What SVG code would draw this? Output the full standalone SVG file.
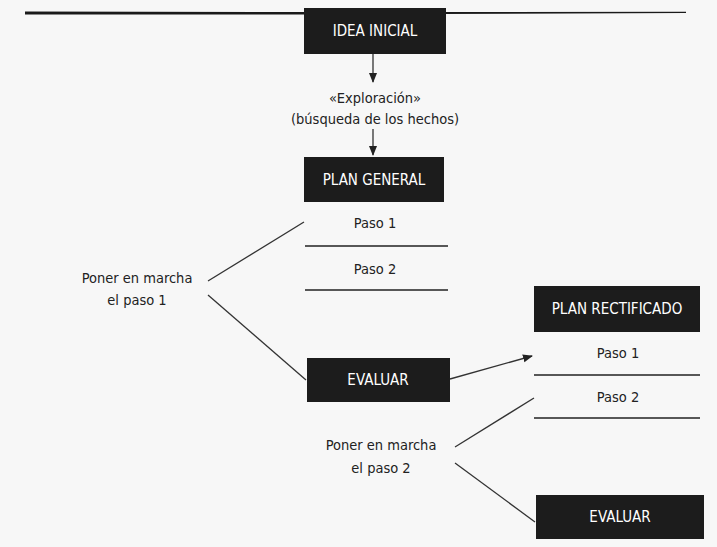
<svg xmlns="http://www.w3.org/2000/svg" width="717" height="547" viewBox="0 0 717 547">
<style>
.box{fill:#1c1c1c}
.bt{fill:#ffffff;font-family:"DejaVu Sans Condensed","DejaVu Sans",sans-serif;font-stretch:condensed;font-size:15px;text-anchor:middle}
.t{fill:#222;font-family:"DejaVu Sans Condensed","DejaVu Sans",sans-serif;font-stretch:condensed;font-size:14.5px;text-anchor:middle}
.sep{stroke:#222;stroke-width:1.6}
.c{stroke:#333;stroke-width:1.3;fill:none}
</style>
<defs>
<marker id="ah" markerWidth="10" markerHeight="10" refX="9" refY="5" orient="auto" markerUnits="userSpaceOnUse">
<path d="M0,1 L10,5 L0,9 Z" fill="#222"/>
</marker>
</defs>
<rect width="717" height="547" fill="#f7f7f7"/>
<path d="M25,11.5 L300,12 L686,11.8 L686,13 L300,14.5 L25,14.5 Z" fill="#1a1a1a"/>
<g id="idea"><rect class="box" x="304" y="8" width="142" height="46"/><text class="bt" x="375" y="36">IDEA INICIAL</text></g>
<g id="exploracion"><text class="t" x="375" y="103">«Exploración»</text><text class="t" x="375" y="124">(búsqueda de los hechos)</text></g>
<g id="plan-general"><rect class="box" x="304" y="157" width="140" height="45"/><text class="bt" x="374" y="185">PLAN GENERAL</text>
<text class="t" x="375" y="228">Paso 1</text><line class="sep" x1="305" y1="246" x2="448" y2="246"/>
<text class="t" x="375" y="274">Paso 2</text><line class="sep" x1="305" y1="290" x2="448" y2="290"/></g>
<g id="poner1"><text class="t" x="137" y="283">Poner en marcha</text><text class="t" x="137" y="305">el paso 1</text></g>
<g id="evaluar1"><rect class="box" x="307" y="358" width="143" height="44"/><text class="bt" x="378" y="385">EVALUAR</text></g>
<g id="plan-rectificado"><rect class="box" x="534" y="286" width="166" height="46"/><text class="bt" x="617" y="314">PLAN RECTIFICADO</text>
<text class="t" x="618" y="358">Paso 1</text><line class="sep" x1="534" y1="375" x2="700" y2="375"/>
<text class="t" x="618" y="402">Paso 2</text><line class="sep" x1="534" y1="418" x2="700" y2="418"/></g>
<g id="poner2"><text class="t" x="381" y="450">Poner en marcha</text><text class="t" x="381" y="473">el paso 2</text></g>
<g id="evaluar2"><rect class="box" x="536" y="495" width="168" height="44"/><text class="bt" x="620" y="522">EVALUAR</text></g>
<g id="connectors">
<line class="c" x1="373" y1="54" x2="373" y2="82" marker-end="url(#ah)"/>
<line class="c" x1="373" y1="129" x2="373" y2="155" marker-end="url(#ah)"/>
<line class="c" x1="208" y1="281" x2="304" y2="222"/>
<line class="c" x1="208" y1="295" x2="306" y2="380"/>
<line class="c" x1="450" y1="379" x2="532" y2="356" marker-end="url(#ah)"/>
<line class="c" x1="455" y1="447" x2="534" y2="398"/>
<line class="c" x1="455" y1="463" x2="535" y2="522"/>
</g>
</svg>
